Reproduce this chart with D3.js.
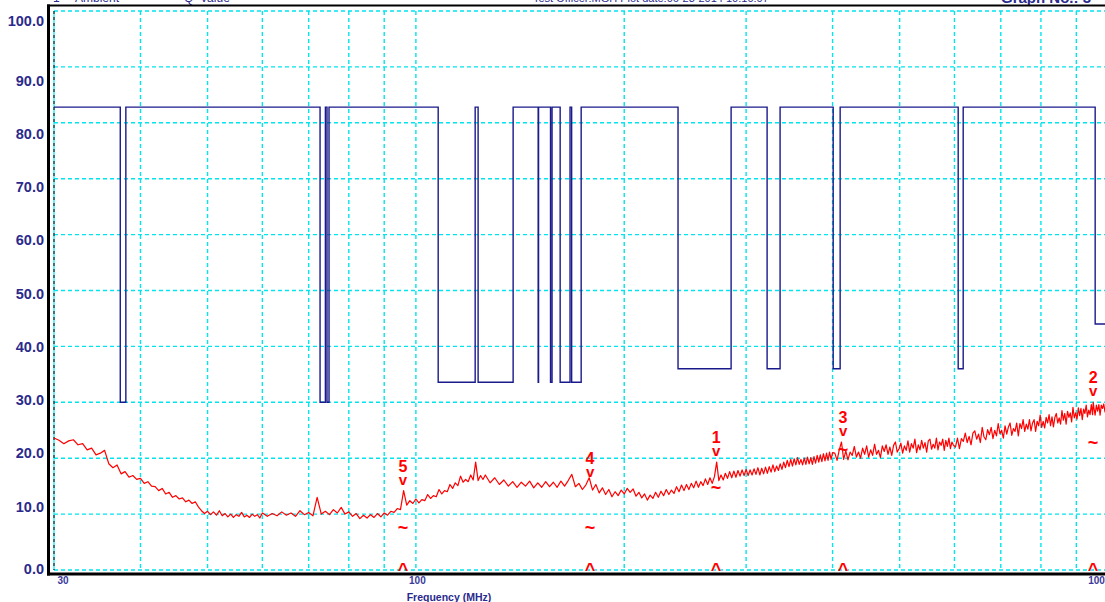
<!DOCTYPE html>
<html><head><meta charset="utf-8">
<script src="https://cdn.jsdelivr.net/npm/d3@7"></script>
<style>
html,body{margin:0;padding:0;background:#fff;overflow:hidden}
svg{display:block;font-family:"Liberation Sans",Arial,sans-serif}
</style></head><body>
<svg id="chart" width="1105" height="602"></svg>
<script>
// ---- data ----
const yTicks = [0,10,20,30,40,50,60,70,80,90,100];
const xGridFreqs = [40,50,60,70,80,90,100,200,300,400,500,600,700,800,900];
const xTickLabels = [30,100,1000];

// blue step limit line (frequency in MHz where each level starts)
const limitFreq  = [30,37.4,38.1,72.7,74.0,74.4,74.9,107.7,121.8,123.0,138.2,150.2,150.4,156.5,157.3,161.6,167.0,167.9,173.3,239.2,285.4,321.7,335.9,400.8,410.2,607.5,617.7,958.2,1000];
const limitLevel = [82.8,30.0,82.8,30.0,82.8,30.0,82.8,33.6,82.8,33.6,82.8,33.6,82.8,33.6,82.8,33.6,82.8,33.6,82.8,36.0,82.8,36.0,82.8,36.0,82.8,36.0,82.8,44.0,44.0];

// red measured trace: [frequency MHz, level]
const trace = [
 [30,23.6],[30.5,23.2],[31,22.6],[31.5,23.1],[32,23.3],[32.5,22.4],[33,22.6],[33.5,21.5],[34,21.8],[34.5,20.6],[35,20.9],[35.5,21.4],[36,19.0],[36.5,18.3],[37,18.8],[37.5,17.2],[38,17.6],[38.5,16.6],[39,16.9],[39.5,16.2],
 [40,16.4],[40.5,15.5],[41,15.8],[41.5,15.0],[42,14.9],[42.5,14.2],[43,14.6],[43.5,13.6],[44,13.9],[44.5,13.0],[45,13.3],[45.5,12.7],[46,12.9],[46.5,12.2],[47,12.5],[47.5,11.9],[48,12.2],[48.5,11.3],[49,10.6],[49.5,10.1],
 [50,10.5],[50.5,9.9],[51,10.4],[51.5,9.8],[52,10.6],[52.5,9.7],[53,10.1],[53.5,9.5],[54,10.0],[54.5,9.4],[55,9.9],[55.5,9.6],[56,10.3],[56.5,9.5],[57,9.8],[57.5,9.4],[58,10.0],[58.5,9.6],[59,9.9],[59.5,9.3],[60,10.2],
 [61,9.6],[62,10.1],[63,9.7],[64,10.4],[65,9.8],[66,10.2],[67,9.6],[68,10.6],[69,9.9],[70,10.3],[71,9.7],[72,13.0],[73,10.0],[74,10.5],[75,9.9],[76,10.8],[77,10.2],[78,11.2],[79,10.0],[80,10.4],
 [81,9.6],[82,10.1],[83,9.2],[84,9.8],[85,9.3],[86,9.9],[87,9.4],[88,10.1],[89,9.5],[90,10.2],[91,9.8],[92,10.5],[93,10.3],[94,11.0],[95,10.8],[96,14.2],[97,11.6],[98,12.4],[99,11.9],[100,12.7],
 [101,12.0],[102,12.6],[103,12.4],[104,13.5],[105,12.8],[106,13.3],[107,13.1],[108,14.4],[109,13.6],[110,14.2],[111,14.0],[112,15.3],[113,14.6],[114,15.6],[115,15.1],[116,16.8],[117,15.7],[118,16.2],[119,15.8],[120,17.0],[121,16.1],[122,19.3],[123,16.0],[124,16.9],[125,16.2],
 [126,17.0],[128,15.6],[130,16.5],[132,15.3],[134,16.1],[136,15.0],[138,15.8],[140,14.8],[142,15.7],[144,15.0],[146,15.9],[148,14.7],[150,15.6],[152,14.8],[154,15.8],[156,14.9],[158,15.7],[160,14.8],[162,15.9],[164,15.0],[166,16.0],[168,17.1],[170,14.9],[172,15.5],[174,14.4],[176,15.2],[178,16.5],[180,14.3],[182,15.3],[184,13.8],[186,14.7],[188,13.5],[190,14.4],[192,13.1],[194,14.0],[196,13.3],[198,14.3],[200,13.6],
 [202,14.6],[204,13.9],[206,14.5],[208,13.2],[210,13.9],[212,12.9],[214,13.6],[216,12.5],[218,13.4],[220,12.8],[222,13.9],[224,13.0],[226,14.1],[228,13.3],[230,14.4],[232,13.5],[234,14.3],[236,13.7],[238,14.9],[240,14.0],
 [242,15.2],[244,14.2],[246,15.3],[248,14.4],[250,15.5],[252,14.7],[254,15.9],[256,14.8],[258,15.8],[260,15.1],[262,16.3],[264,15.3],[266,16.5],[268,15.5],[270,16.7],[272,19.3],[274,16.0],[276,17.0],[278,16.1],[280,17.3],
 [282,16.4],[284,17.6],[286,16.5],[288,17.7],[290,16.6],[292,17.8],[294,16.8],[296,17.9],[298,16.9],[300,18.0],[302,16.9],[304,17.9],[306,17.0],[308,18.1],[310,17.1],[312,18.3],[314,17.0],[316,18.2],[318,17.2],[320,18.4],
 [322,17.3],[324,18.5],[326,17.5],[328,18.8],[330,17.6],[332,18.6],[334,17.8],[336,19.0],[338,18.0],[340,19.3],[342,18.3],[344,19.6],[346,18.5],[348,19.8],[350,18.6],[352,19.9],[354,18.8],[356,20.1],[358,18.9],[360,19.8],
 [362,18.8],[364,20.0],[366,18.9],[368,20.2],[370,19.0],[372,20.1],[374,18.9],[376,20.3],[378,19.1],[380,20.5],[382,19.3],[384,20.6],[386,19.4],[388,20.8],[390,19.5],[392,20.9],[394,19.6],[396,21.1],[398,19.8],[400,21.0],
 [403,20.9],[406,19.6],[409,21.5],[412,22.9],[415,19.8],[418,21.3],[421,19.7],[424,21.1],[427,20.5],[430,22.1],[433,20.2],[436,21.1],[439,20.0],[442,21.8],[445,20.7],[448,22.2],[451,20.2],[454,21.5],[457,20.5],[460,22.5],
 [463,20.7],[466,21.4],[469,20.1],[472,22.2],[475,21.2],[478,22.4],[481,20.7],[484,22.0],[487,20.5],[490,22.3],[493,22.9],[496,21.1],[499,21.7],[502,22.7],[505,20.9],[508,22.2],[511,21.4],[514,23.1],[517,21.1],[520,22.6],
 [523,21.8],[526,23.4],[529,21.0],[532,22.4],[535,21.5],[538,23.2],[541,21.8],[544,22.8],[547,21.1],[550,23.1],[553,23.4],[556,21.6],[559,22.5],[562,21.8],[565,23.6],[568,21.5],[571,22.9],[574,22.3],[577,23.4],[580,21.4],
 [583,23.2],[586,22.1],[589,23.6],[592,21.7],[595,22.9],[598,22.3],
 [602,22.0],[606,23.6],[610,21.7],[614,23.5],[618,23.0],[622,24.5],[626,22.8],[630,23.9],[634,22.4],[638,24.5],[642,24.9],[646,23.4],[650,24.3],[654,22.8],[658,25.5],[662,23.8],[666,23.3],[670,25.1],[674,24.2],[678,25.5],
 [682,23.5],[686,25.0],[690,24.0],[694,26.2],[698,24.4],[702,25.0],[706,23.6],[710,25.8],[714,24.3],[718,25.6],[722,26.3],[726,24.1],[730,25.3],[734,24.8],[738,26.3],[742,24.0],[746,26.2],[750,25.3],[754,26.9],[758,24.8],
 [762,26.1],[766,25.2],[770,26.9],[774,24.9],[778,26.3],[782,26.9],[786,24.8],[790,26.6],[794,25.8],[798,27.7],[802,25.5],[806,26.6],[810,25.4],[814,27.3],[818,26.3],[822,27.8],[826,25.8],[830,27.4],[834,25.6],[838,27.3],
 [842,28.0],[846,26.3],[850,27.2],[854,26.1],[858,28.5],[862,26.8],[866,28.0],[870,26.1],[874,28.4],[878,27.3],[882,28.1],[886,26.5],[890,29.1],[894,27.2],[898,28.1],[902,27.0],[906,29.0],[910,27.6],[914,28.9],[918,26.9],
 [922,28.8],[926,28.0],[930,29.5],[934,27.4],[938,28.6],[942,27.8],[946,29.6],[950,27.8],[952,30.0],[954,29.1],[958,27.7],[962,29.5],[966,28.4],[970,29.6],[974,27.7],[978,29.5],[982,28.9],[986,29.7],[990,28.3],[994,29.5],[998,28.8],[1000,29.2]
];

// markers
const markerId   = ["1","2","3","4","5"];
const markerFreq = [271.5,951.7,414.2,178.5,95.8];
const markerPeak = [19.3,30.0,22.9,15.6,14.2];
const markerQp   = [14.7,22.7,21.5,7.5,7.5];

// ---- drawing ----
const NAVY = "#2a2a8c", CYAN = "#00e5ee", RED = "#ff0000", LIMIT = "#1a1a8c";
const svg = d3.select("#chart");
const x = d3.scaleLog().domain([30,1000]).range([54,1108]);
const y = d3.scaleLinear().domain([0,100]).range([570,11]);
const yLabel = d3.scaleLinear().domain([0,10,90,100]).range([568,506,80,20]);

// header (cut off at the top of the picture)
const hdr = svg.append("g").attr("fill",NAVY);
hdr.append("text").attr("x",53).attr("y",2).attr("font-size",12).text("1");
hdr.append("text").attr("x",75).attr("y",2).attr("font-size",12).text("Ambient");
hdr.append("text").attr("x",184).attr("y",2).attr("font-size",12).text("Q");
hdr.append("text").attr("x",200).attr("y",2).attr("font-size",12).text("Value");
hdr.append("text").attr("x",533).attr("y",2).attr("font-size",11).text("Test Officer:MGH  Plot date:06-23-2014 10:10:07");
hdr.append("text").attr("x",1001).attr("y",3).attr("font-size",15).attr("font-weight","bold").text("Graph No.: 3");

// grid
const grid = svg.append("g").attr("stroke",CYAN).attr("stroke-width",1.4).attr("stroke-dasharray","4,3");
grid.selectAll(".h").data(yTicks).join("line").attr("class","h")
  .attr("x1",x(30)).attr("x2",1105).attr("y1",d=>y(d)).attr("y2",d=>y(d));
grid.selectAll(".v").data(xGridFreqs).join("line").attr("class","v")
  .attr("x1",d=>x(d)).attr("x2",d=>x(d)).attr("y1",y(100)).attr("y2",y(0));
svg.append("line").attr("x1",x(30)).attr("x2",x(30)).attr("y1",y(100)).attr("y2",y(0))
  .attr("stroke",CYAN).attr("stroke-width",1.2);
svg.append("line").attr("x1",x(30)).attr("x2",x(30)).attr("y1",y(100)).attr("y2",y(0))
  .attr("stroke","#222").attr("stroke-width",1.2).attr("stroke-dasharray","3,3");

// frame
const frame = svg.append("g").attr("stroke","#000");
frame.append("line").attr("x1",47).attr("x2",1105).attr("y1",5.5).attr("y2",5.5).attr("stroke-width",2);
frame.append("line").attr("x1",48.5).attr("x2",48.5).attr("y1",4.5).attr("y2",575.5).attr("stroke-width",3);
frame.append("line").attr("x1",47).attr("x2",1105).attr("y1",574).attr("y2",574).attr("stroke-width",3);

// y axis labels
const yAxis = svg.append("g").attr("transform","translate(45,0)")
  .call(d3.axisLeft(yLabel).tickValues(yTicks).tickFormat(d3.format(".1f")).tickSize(0).tickPadding(1));
yAxis.select(".domain").remove();
yAxis.selectAll("text").attr("fill",NAVY).attr("font-size",14.5).attr("font-weight","bold")
  .attr("font-family","'Liberation Sans',Arial,sans-serif").attr("dy","0.36em");

// x axis labels
const xAxis = svg.append("g").attr("transform","translate(0,575)")
  .call(d3.axisBottom(x).tickValues(xTickLabels).tickFormat(d=>String(d)).tickSize(0).tickPadding(2));
xAxis.select(".domain").remove();
xAxis.selectAll("text").attr("fill","#3a3a9c").attr("font-size",10).attr("font-weight","bold")
  .attr("font-family","'Liberation Sans',Arial,sans-serif")
  .attr("text-anchor",d=>d===30?"start":(d===1000?"end":"middle"))
  .attr("dx",d=>d===30?3:(d===1000?2:1));
svg.append("text").attr("x",449).attr("y",601).attr("text-anchor","middle")
  .attr("fill",NAVY).attr("font-size",10.5).attr("font-weight","bold").text("Frequency (MHz)");

// limit line
const limitData = d3.zip(limitFreq,limitLevel);
svg.append("path").datum(limitData)
  .attr("d",d3.line().curve(d3.curveStepAfter).x(d=>x(d[0])).y(d=>y(d[1])))
  .attr("fill","none").attr("stroke",LIMIT).attr("stroke-width",1.4);

// trace
svg.append("path").datum(trace)
  .attr("d",d3.line().x(d=>x(d[0])).y(d=>y(d[1])))
  .attr("fill","none").attr("stroke",RED).attr("stroke-width",1.2).attr("stroke-linejoin","round");

// markers
const mk = svg.append("g").attr("fill",RED).attr("font-weight","bold").attr("text-anchor","middle");
markerId.forEach((id,i)=>{
  const mx = x(markerFreq[i]), py = y(markerPeak[i]);
  const t = mk.append("text").attr("x",mx).attr("y",py-19).attr("font-size",16);
  t.append("tspan").attr("x",mx).text(id);
  t.append("tspan").attr("x",mx).attr("dy",13).attr("font-size",15).text("v");
  mk.append("text").attr("x",mx).attr("y",y(markerQp[i])+6).attr("font-size",18).text("~");
  mk.append("text").attr("x",mx).attr("y",575.5).attr("font-size",18).text("^");
});
</script>
</body></html>
